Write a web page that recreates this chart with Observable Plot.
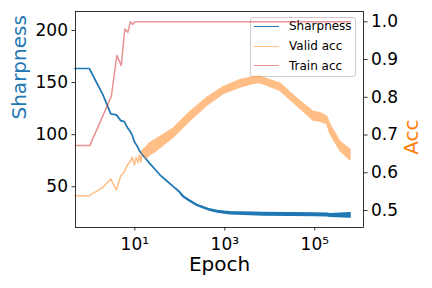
<!DOCTYPE html>
<html><head><meta charset="utf-8">
<script src="https://cdn.jsdelivr.net/npm/d3@7"></script>
<script src="https://cdn.jsdelivr.net/npm/@observablehq/plot@0.6"></script>
<style>
html,body{margin:0;padding:0;background:#fff;}
#wrap{position:relative;width:432px;height:288px;font-family:"DejaVu Sans",sans-serif;overflow:hidden;}
#legend{position:absolute;left:250px;top:17px;width:106px;height:60px;border:1px solid #cccccc;border-radius:3px;background:rgba(255,255,255,0.8);z-index:0;box-sizing:border-box;}
#legend .row{position:absolute;left:0;height:0;}
#legend .sw{position:absolute;left:3px;width:25px;height:1.5px;top:-0.75px;}
#legend .lb{position:absolute;left:38px;top:-8px;font-size:12px;line-height:16px;white-space:nowrap;color:#000;}
#chart{position:absolute;left:0;top:0;z-index:1;}
</style></head><body>
<div id="wrap"><div id="legend"></div><div id="chart"></div></div>
<script>
// ---- data ----
const sharpEpoch = [0,1,2,3,4,5,6,7,8,9,10,11,12,13,15,22,37,50,74,100,123,170,244,350,481,700,1000,1340,7250,28800,100000,189000,223000,620000];
const sharpHi = [163,163,138,119.5,118.5,113,112,106.5,103,99,93,90,87.5,84,80.5,72,61,56,49.6,45,40.5,36.5,32.5,30,28,26.6,25.9,25.5,24.8,24.6,24.3,24.0,23.6,24.6];
const sharpLo = [163,163,138,119.5,118.5,113,112,106.5,103,99,93,90,87.5,84,80.5,72,61,56,49.6,44.6,39.8,35.8,31.7,29.2,27.0,25.4,24.5,23.8,22.5,22.3,22.0,21.7,21.3,20.6];

const validEpoch = [0,1,2,3,4,5,6,7,8,9,10,11,12,13,14,15,18,22,30,74,173,406,950,2233,4340,6210,17300,40600,95000,134000,189000,223000,372000,570000,620000];
const validLo = [.538,.538,.560,.582,.553,.591,.601,.619,.627,.640,.619,.640,.625,.646,.627,.659,.637,.647,.657,.694,.738,.778,.809,.826,.836,.838,.817,.778,.738,.736,.729,.703,.658,.637,.634];
const validHi = [.538,.538,.560,.582,.553,.591,.601,.619,.627,.640,.619,.640,.625,.646,.627,.659,.666,.678,.688,.717,.761,.798,.827,.845,.853,.854,.836,.796,.761,.758,.748,.726,.681,.664,.662];

const trainEpoch = [0,1,2,3,4,5,6,7,8,9,10,620000];
const trainAcc = [0.672,0.672,0.754,0.802,0.911,0.884,0.981,0.972,1.0,0.993,1.0,1.0];

const xTicks = [10, 1000, 100000];
const xTickLabels = ["10\u00b9", "10\u00b3", "10\u2075"];
const yTicks = [50, 100, 150, 200];
const accTicks = [0.5, 0.6, 0.7, 0.8, 0.9, 1.0];

const seriesNames = ["Sharpness", "Valid acc", "Train acc"];
const seriesColors = ["#1f77b4", "#ffbf86", "#ea9393"];

// ---- scales ----
const yDomain = [10.9, 218.2];
const accDomain = [0.455, 1.0273];
const acc2y = d3.scaleLinear(accDomain, yDomain);

const sharp = sharpEpoch.map((e, i) => ({e, lo: sharpLo[i], hi: sharpHi[i]}));
const valid = validEpoch.map((e, i) => ({e, lo: validLo[i], hi: validHi[i]}));
const train = trainEpoch.map((e, i) => ({e, a: trainAcc[i]}));

const chart = Plot.plot({
  width: 432, height: 288,
  marginLeft: 75, marginRight: 69, marginTop: 11, marginBottom: 61,
  style: {fontFamily: "DejaVu Sans", fontSize: "17px", background: "transparent", color: "black"},
  x: {type: "log", domain: [0.481, 1.21e6], clamp: true},
  y: {domain: yDomain},
  marks: [
    Plot.areaY(sharp, {x: "e", y1: "lo", y2: "hi", fill: "#1f77b4", stroke: "#1f77b4", strokeWidth: 1.7, strokeLinejoin: "round"}),
    Plot.areaY(valid, {x: "e", y1: d => acc2y(d.lo), y2: d => acc2y(d.hi), fill: "#ff7f0e", stroke: "#ff7f0e", strokeWidth: 1.5, strokeLinejoin: "round", opacity: 0.5}),
    Plot.line(train, {x: "e", y: d => acc2y(d.a), stroke: "#d62728", strokeWidth: 1.5, opacity: 0.5}),
    Plot.frame({stroke: "black", strokeWidth: 0.8}),
    Plot.axisX({ticks: xTicks, tickFormat: d => xTickLabels[xTicks.indexOf(d)], tickSize: 3.5, tickPadding: 7, fontSize: 17, label: null, strokeWidth: 0.8}),
    Plot.axisY({ticks: yTicks, tickFormat: d => String(d), tickSize: 3.5, tickPadding: 4, fontSize: 17, label: null, strokeWidth: 0.8}),
    Plot.axisY(accTicks.map(acc2y), {anchor: "right", tickFormat: d => acc2y.invert(d).toFixed(1), tickSize: 3.5, tickPadding: 4, fontSize: 17, label: null, strokeWidth: 0.8}),
    Plot.text(["Epoch"], {text: d => d, frameAnchor: "bottom", dy: 43, fontSize: 20, fill: "black"}),
    Plot.text(["Sharpness"], {text: d => d, frameAnchor: "left", dx: -55.5, rotate: -90, fontSize: 20, fill: "#1f77b4"}),
    Plot.text(["Acc"], {text: d => d, frameAnchor: "right", dx: 48, rotate: -90, fontSize: 20, fill: "#ff7f0e"})
  ]
});
document.getElementById("chart").appendChild(chart);

// ---- legend ----
const legend = document.getElementById("legend");
const rowY = [8.4, 28.4, 47.7];
seriesNames.forEach((name, i) => {
  const row = document.createElement("div");
  row.className = "row";
  row.style.top = rowY[i] + "px";
  row.innerHTML = `<div class="sw" style="background:${seriesColors[i]}"></div><div class="lb">${name}</div>`;
  legend.appendChild(row);
});
</script>
</body></html>
